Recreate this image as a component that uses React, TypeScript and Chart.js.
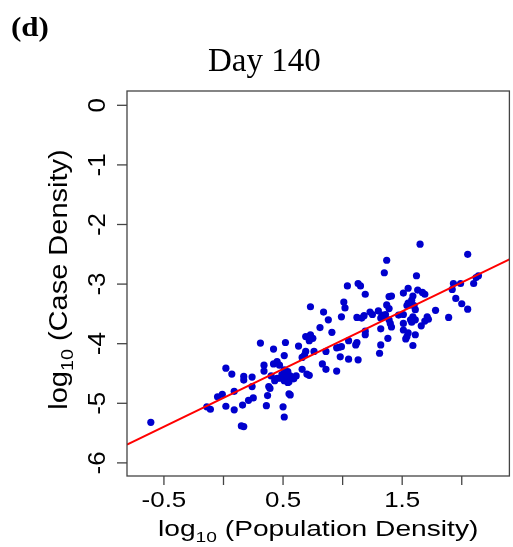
import React, { useEffect, useRef } from "react";
import { Chart, registerables } from "chart.js";

Chart.register(...registerables);

// ---- data (log10 population density vs log10 case density, Day 140) ----
const popDensity = [
  -0.61, -0.14, -0.11, -0.05, -0.01, 0.02, 0.07, 0.09, 0.02, 0.09,
  0.15, 0.17, 0.17, 0.17, 0.24, 0.24, 0.16, 0.21, 0.25, 0.31,
  0.34, 0.34, 0.38, 0.39, 0.37, 0.36, 0.42, 0.42, 0.45, 0.47,
  0.51, 0.54, 0.49, 0.52, 0.55, 0.48, 0.51, 0.54, 0.45, 0.40,
  0.43, 0.52, 0.51, 0.55, 0.50, 0.51, 0.56, 0.61, 0.59, 0.55,
  0.56, 0.63, 0.66, 0.69, 0.68, 0.66, 0.70, 0.72, 0.69, 0.73,
  0.75, 0.72, 0.73, 0.76, 0.81, 0.84, 0.88, 0.86, 0.83, 0.86,
  0.91, 0.95, 0.95, 0.97, 0.99, 0.98, 0.99, 1.01, 1.02, 1.04,
  1.13, 1.15, 1.19, 1.05, 1.12, 1.11, 1.05, 1.13, 1.12, 1.16,
  1.18, 1.23, 1.25, 1.30, 1.33, 1.32, 1.34, 1.36, 1.19, 1.19,
  1.32, 1.32, 1.31, 1.37, 1.35, 1.39, 1.41, 1.37, 1.39, 1.39,
  1.40, 1.41, 1.38, 1.65, 1.62, 1.55, 1.51, 1.63, 1.67, 1.69,
  1.59, 1.58, 1.55, 1.57, 1.54, 1.60, 1.61, 1.78, 1.51, 1.47,
  1.59, 1.61, 1.58, 1.57, 1.71, 1.72, 1.69, 1.66, 1.51, 1.51,
  1.55, 1.54, 1.61, 1.53, 1.59, 2.05, 2.14, 2.12, 1.93, 1.92,
  1.99, 2.10, 1.95, 2.00, 2.05, 1.89,
];
const caseDensity = [
  -5.32, -5.06, -5.10, -4.89, -4.85, -4.41, -4.51, -4.80, -5.05, -5.11,
  -5.38, -5.39, -4.55, -4.61, -4.56, -4.72, -5.03, -4.95, -4.91, -3.99,
  -4.36, -4.46, -4.72, -4.75, -4.87, -5.04, -4.09, -4.34, -4.30, -4.36,
  -4.44, -4.47, -4.52, -4.54, -4.58, -4.58, -4.62, -4.65, -4.58, -4.54,
  -4.62, -3.98, -4.20, -4.84, -5.06, -5.23, -4.54, -4.54, -4.59, -4.64,
  -4.86, -4.04, -4.23, -4.13, -4.19, -4.43, -4.51, -4.53, -3.88, -3.85,
  -3.91, -3.95, -3.38, -4.13, -3.73, -3.47, -3.60, -4.13, -4.34, -4.43,
  -3.81, -4.46, -4.07, -4.06, -4.05, -4.22, -3.55, -3.30, -3.40, -3.03,
  -2.99, -3.03, -3.17, -3.95, -3.98, -4.02, -4.26, -4.27, -3.56, -3.57,
  -3.53, -3.47, -3.51, -3.45, -3.52, -3.57, -3.55, -3.51, -3.79, -3.85,
  -3.75, -4.02, -4.16, -2.60, -2.81, -3.21, -3.20, -3.35, -3.41, -3.60,
  -3.66, -3.72, -3.91, -2.33, -2.86, -3.07, -3.15, -3.10, -3.14, -3.17,
  -3.20, -3.27, -3.32, -3.35, -3.36, -3.36, -3.43, -3.44, -3.51, -3.52,
  -3.55, -3.60, -3.64, -3.60, -3.55, -3.59, -3.62, -3.70, -3.66, -3.77,
  -3.82, -3.88, -3.85, -3.92, -4.03, -2.50, -2.86, -2.89, -2.99, -3.09,
  -2.99, -2.99, -3.24, -3.33, -3.42, -3.56,
];

// fitted regression line y = intercept + slope * x
const fitIntercept = -4.91;
const fitSlope = 0.969;

// axes
const xMin = -0.81;
const xMax = 2.4;
const yMin = -6.22;
const yMax = 0.24;
const xTicks = [-0.5, 0, 0.5, 1, 1.5, 2];
const xTickLabels = ["-0.5", "", "0.5", "", "1.5", ""];
const yTicks = [0, -1, -2, -3, -4, -5, -6];
const yTickLabels = ["0", "-1", "-2", "-3", "-4", "-5", "-6"];

const panelLabel = "(d)";
const titleText = "Day 140";

const SANS = '"Liberation Sans", Arial, sans-serif';
const SERIF = '"Liberation Serif", "Times New Roman", serif';

type Part = { text: string; size: number; dy?: number };

function drawRich(
  ctx: CanvasRenderingContext2D,
  parts: Part[],
  family: string,
  x: number,
  y: number,
  sx: number,
  rot: number,
  align: "center" | "left" = "center",
  weight = "normal"
) {
  ctx.save();
  ctx.translate(x, y);
  ctx.rotate(rot);
  ctx.scale(sx, 1);
  ctx.textAlign = "left";
  ctx.textBaseline = "alphabetic";
  let total = 0;
  const widths = parts.map((p) => {
    ctx.font = `${weight} ${p.size}px ${family}`;
    const w = ctx.measureText(p.text).width;
    total += w;
    return w;
  });
  let cx = align === "center" ? -total / 2 : 0;
  parts.forEach((p, i) => {
    ctx.font = `${weight} ${p.size}px ${family}`;
    ctx.fillText(p.text, cx, p.dy || 0);
    cx += widths[i];
  });
  ctx.restore();
}

const rStylePlugin = {
  id: "rStyle",
  afterDraw(chart: any) {
    const { ctx, chartArea: a, scales } = chart;
    const xs = scales.x;
    const ys = scales.y;
    ctx.save();
    ctx.fillStyle = "#000";
    ctx.strokeStyle = "#444";
    ctx.lineWidth = 1.3;
    ctx.strokeRect(a.left, a.top, a.right - a.left, a.bottom - a.top);

    // x axis ticks and labels
    xTicks.forEach((v, i) => {
      const px = xs.getPixelForValue(v);
      ctx.beginPath();
      ctx.moveTo(px, a.bottom);
      ctx.lineTo(px, a.bottom + 9);
      ctx.stroke();
      if (xTickLabels[i]) {
        drawRich(ctx, [{ text: xTickLabels[i], size: 22 }], SANS, px, a.bottom + 31, 1.18, 0);
      }
    });

    // y axis ticks and labels
    yTicks.forEach((v, i) => {
      const py = ys.getPixelForValue(v);
      ctx.beginPath();
      ctx.moveTo(a.left, py);
      ctx.lineTo(a.left - 10, py);
      ctx.stroke();
      drawRich(ctx, [{ text: yTickLabels[i], size: 24 }], SANS, a.left - 22, py, 1.08, -Math.PI / 2);
    });

    // axis titles
    const cxPlot = (a.left + a.right) / 2;
    const cyPlot = (a.top + a.bottom) / 2;
    drawRich(
      ctx,
      [
        { text: "log", size: 22 },
        { text: "10", size: 15, dy: 5.5 },
        { text: " (Population Density)", size: 22 },
      ],
      SANS,
      cxPlot,
      a.bottom + 60,
      1.28,
      0
    );
    drawRich(
      ctx,
      [
        { text: "log", size: 25 },
        { text: "10", size: 17, dy: 6 },
        { text: " (Case Density)", size: 25 },
      ],
      SANS,
      a.left - 60,
      cyPlot - 4,
      1.16,
      -Math.PI / 2
    );

    // title and panel label
    drawRich(ctx, [{ text: titleText, size: 33 }], SERIF, 208, 71, 1.0, 0, "left");
    drawRich(ctx, [{ text: panelLabel, size: 27 }], SERIF, 11, 36, 1.15, 0, "left", "bold");
    ctx.restore();
  },
};

export default function App() {
  const ref = useRef<HTMLCanvasElement | null>(null);
  useEffect(() => {
    if (!ref.current) return;
    const points = popDensity.map((x, i) => ({ x, y: caseDensity[i] }));
    const fitLine = [xMin, xMax].map((x) => ({ x, y: fitIntercept + fitSlope * x }));
    const chart = new Chart(ref.current, {
      type: "scatter",
      data: {
        datasets: [
          {
            type: "line",
            data: fitLine,
            borderColor: "#FF0000",
            borderWidth: 2,
            pointRadius: 0,
            fill: false,
            tension: 0,
          } as any,
          {
            data: points,
            backgroundColor: "#0000CD",
            borderWidth: 0,
            pointRadius: 3.6,
            pointHoverRadius: 3.6,
          },
        ],
      },
      options: {
        responsive: false,
        animation: false,
        devicePixelRatio: 1,
        layout: { padding: { left: 127, right: 2, top: 91, bottom: 71 } },
        plugins: { legend: { display: false }, tooltip: { enabled: false }, title: { display: false } },
        scales: {
          x: { type: "linear", min: xMin, max: xMax, display: false },
          y: { type: "linear", min: yMin, max: yMax, display: false },
        },
      },
      plugins: [rStylePlugin],
    });
    return () => chart.destroy();
  }, []);
  return (
    <div style={{ position: "absolute", left: 0, top: 0, width: 513, height: 547, background: "#fff" }}>
      <canvas ref={ref} width={513} height={547} style={{ display: "block" }} />
    </div>
  );
}
